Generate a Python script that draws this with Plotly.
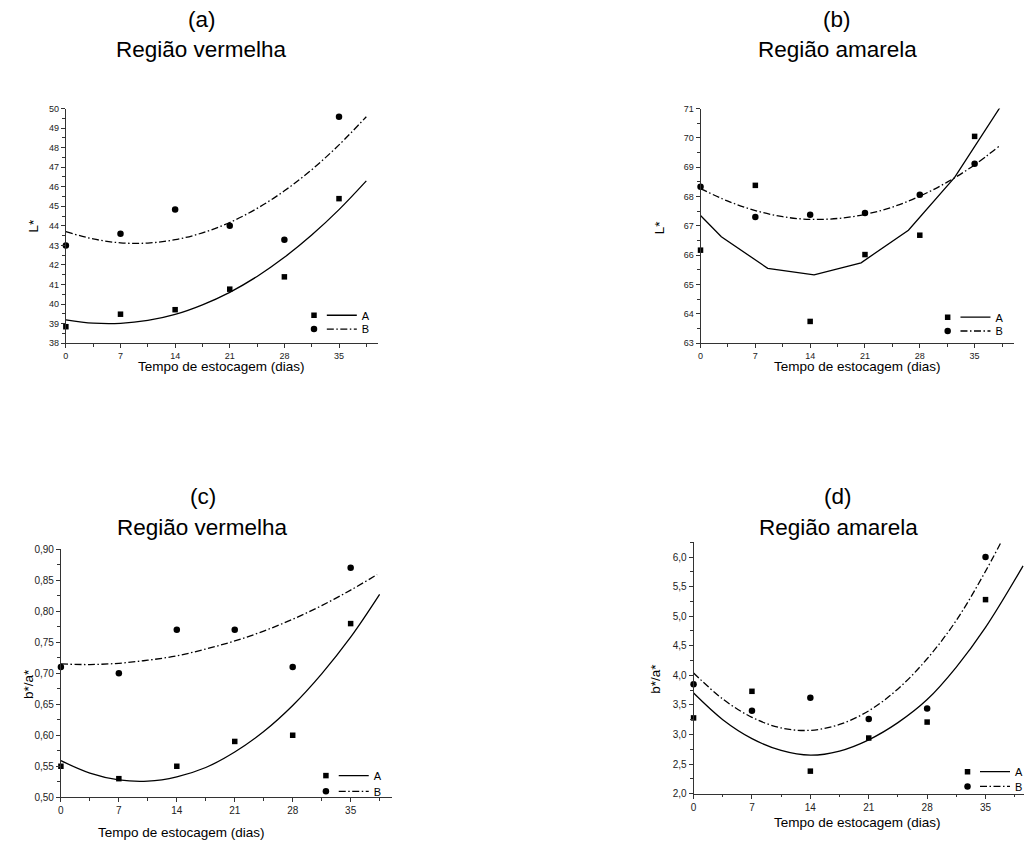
import plotly.graph_objects as go

# ---------------- data ----------------
days = [0, 7, 14, 21, 28, 35]

# (a) Região vermelha, L*
a_A = [38.84, 39.48, 39.71, 40.76, 41.39, 45.39]
a_B = [42.99, 43.60, 44.84, 44.00, 43.29, 49.58]
a_fit_x = [0, 3.5, 7, 10.5, 14, 17.5, 21, 24.5, 28, 31.5, 35, 38.5]
a_fitA = [39.19, 39.02, 39.01, 39.16, 39.47, 39.96, 40.60, 41.41, 42.39, 43.53, 44.83, 46.30]
a_fitB = [43.70, 43.33, 43.13, 43.12, 43.29, 43.64, 44.17, 44.89, 45.79, 46.87, 48.14, 49.58]

# (b) Região amarela, L*
b_A = [66.17, 68.38, 63.74, 66.02, 66.68, 70.05]
b_B = [68.33, 67.30, 67.38, 67.44, 68.06, 69.12]
b_fitA_x = [0, 2.66, 8.58, 14.5, 20.5, 26.55, 32.45, 38.2]
b_fitA = [67.35, 66.63, 65.55, 65.33, 65.74, 66.85, 68.65, 71.02]
b_fitB_x = [0, 3.5, 7, 10.5, 14, 17.5, 21, 24.5, 28, 31.5, 35, 38.1]
b_fitB = [68.27, 67.84, 67.52, 67.31, 67.22, 67.25, 67.39, 67.64, 68.01, 68.49, 69.08, 69.71]

# (c) Região vermelha, b*/a*
c_A = [0.55, 0.53, 0.55, 0.59, 0.60, 0.78]
c_B = [0.71, 0.70, 0.77, 0.77, 0.71, 0.87]
c_fitA_x = [0, 3.5, 7, 10.5, 14, 17.5, 21, 24.5, 28, 31.5, 35, 38.5]
c_fitA = [0.559, 0.539, 0.528, 0.526, 0.533, 0.548, 0.573, 0.606, 0.648, 0.699, 0.758, 0.827]
c_fitB_x = [0, 3.5, 7, 10.5, 14, 17.5, 21, 24.5, 28, 31.5, 35, 38.2]
c_fitB = [0.715, 0.714, 0.716, 0.721, 0.728, 0.739, 0.752, 0.768, 0.787, 0.809, 0.834, 0.859]

# (d) Região amarela, b*/a*
d_A = [3.28, 3.73, 2.38, 2.94, 3.21, 5.28]
d_B = [3.85, 3.40, 3.62, 3.26, 3.44, 6.00]
d_fitA_x = [0, 3.5, 7, 10.5, 14, 17.5, 21, 24.5, 28, 31.5, 35, 39.5]
d_fitA = [3.70, 3.25, 2.93, 2.73, 2.65, 2.72, 2.91, 3.20, 3.59, 4.14, 4.81, 5.85]
d_fitB_x = [0, 3.5, 7, 10.5, 14, 17.5, 21, 24.5, 28, 31.5, 35, 38.5]
d_fitB = [4.04, 3.60, 3.29, 3.11, 3.07, 3.17, 3.40, 3.77, 4.28, 4.93, 5.76, 6.70]

x_ticks = [0, 7, 14, 21, 28, 35]
panel_letters = ["(a)", "(b)", "(c)", "(d)"]
panel_regions = ["Região vermelha", "Região amarela", "Região vermelha", "Região amarela"]
y_titles = ["L*", "L*", "b*/a*", "b*/a*"]
x_title = "Tempo de estocagem (dias)"
series_names = ["A", "B"]

# ---------------- layout helpers ----------------
W, H = 1028, 843
FONT = "Liberation Sans, Arial, sans-serif"
AX = "#333333"
DASHDOT = "7px,2.5px,1.5px,2.5px"
TITLE_SIZE = 22.5


def xd(l, r):
    return [l / W, r / W]


def yd(top, bottom):
    return [1 - bottom / H, 1 - top / H]


panels = [
    dict(data=(a_A, a_B), fits=((a_fit_x, a_fitA), (a_fit_x, a_fitB)),
         xdom=xd(63.3, 377.6), ydom=yd(104, 342), xr=[0, 40], yr=[38, 50],
         ytick=dict(tickmode="linear", tick0=38, dtick=1),
         yminor=0.5, tfs=9,
         title_x=200, title_y=(14, 44), xt=(220, 366), yt=(31, 223),
         rows=(314, 328), sq=315, ln=329),
    dict(data=(b_A, b_B), fits=((b_fitA_x, b_fitA), (b_fitB_x, b_fitB)),
         xdom=xd(702.3, 1017.7), ydom=yd(104, 342), xr=[0, 40], yr=[63, 71],
         ytick=dict(tickmode="linear", tick0=63, dtick=1),
         yminor=0.5, tfs=9,
         title_x=840, title_y=(14, 44), xt=(860, 366), yt=(661, 224),
         rows=(316, 330), sq=953, ln=967),
    dict(data=(c_A, c_B), fits=((c_fitA_x, c_fitA), (c_fitB_x, c_fitB)),
         xdom=xd(58.3, 391.7), ydom=yd(551, 802.7), xr=[0, 40], yr=[0.5, 0.9],
         ytick=dict(tickmode="linear", tick0=0.5, dtick=0.05, tickformat=".2f"),
         yminor=0.025, tfs=10,
         title_x=201, title_y=(498, 529), xt=(180, 838), yt=(25, 688),
         rows=(781, 797), sq=327, ln=341),
    dict(data=(d_A, d_B), fits=((d_fitA_x, d_fitA), (d_fitB_x, d_fitB)),
         xdom=xd(695.3, 1027.9), ydom=yd(544, 799), xr=[0, 39.6], yr=[2.0, 6.25],
         ytick=dict(tickmode="linear", tick0=2.0, dtick=0.5, tickformat=".1f"),
         yminor=0.25, tfs=10,
         title_x=841, title_y=(498, 529), xt=(860, 828), yt=(657, 683),
         rows=(777, 792), sq=973, ln=987),
]

fig = go.Figure()
layout = dict(
    width=W, height=H, autosize=False,
    margin=dict(l=0, r=0, t=0, b=0),
    paper_bgcolor="white", plot_bgcolor="white",
    separators=",.",
    font=dict(family=FONT, color="black"),
    annotations=[],
)

leg_count = 0


def new_legend(left, row_center, size):
    global leg_count
    leg_count += 1
    name = "legend" if leg_count == 1 else f"legend{leg_count}"
    layout[name] = dict(x=left / W, y=1 - (row_center - 15) / H, xanchor="left", yanchor="top",
                        bgcolor="rgba(0,0,0,0)", font=dict(family=FONT, size=size),
                        itemwidth=30, tracegroupgap=0)
    return name


for i, p in enumerate(panels):
    n = i + 1
    xa = "x" if n == 1 else f"x{n}"
    ya = "y" if n == 1 else f"y{n}"
    symbols = ["square", "circle"]
    sizes = [5.5, 6.5]
    dashes = ["solid", DASHDOT]
    for k in range(2):
        lm = new_legend(p["sq"] - 22, p["rows"][k], 10)
        fig.add_trace(go.Scatter(
            x=days, y=p["data"][k], mode="markers", xaxis=xa, yaxis=ya,
            name=" ", legend=lm, showlegend=True,
            marker=dict(symbol=symbols[k], size=sizes[k], color="black"),
            cliponaxis=False,
        ))
    for k in range(2):
        ll = new_legend(p["ln"] - 8, p["rows"][k], 11)
        fx, fy = p["fits"][k]
        fig.add_trace(go.Scatter(
            x=fx, y=fy, mode="lines", xaxis=xa, yaxis=ya,
            name=series_names[k], legend=ll, showlegend=True,
            line=dict(color="black", width=1.3, dash=dashes[k],
                      shape="linear" if (i == 1 and k == 0) else "spline"),
        ))

    xkey = "xaxis" if n == 1 else f"xaxis{n}"
    ykey = "yaxis" if n == 1 else f"yaxis{n}"
    layout[xkey] = dict(
        domain=p["xdom"], anchor=ya, range=p["xr"],
        tickmode="array", tickvals=x_ticks,
        ticks="outside", ticklen=4, tickwidth=1, tickcolor=AX,
        minor=dict(tickmode="linear", tick0=0, dtick=3.5, ticks="outside", ticklen=2.5, tickcolor=AX),
        showline=True, linecolor=AX, linewidth=1,
        showgrid=False, zeroline=False,
        tickfont=dict(family=FONT, size=p["tfs"], color="#222"),
        fixedrange=True,
    )
    yax = dict(
        domain=p["ydom"], anchor=xa, range=p["yr"],
        ticks="outside", ticklen=4, tickwidth=1, tickcolor=AX,
        minor=dict(tickmode="linear", tick0=0, dtick=p["yminor"], ticks="outside", ticklen=2.5, tickcolor=AX),
        showline=True, linecolor=AX, linewidth=1,
        showgrid=False, zeroline=False,
        tickfont=dict(family=FONT, size=p["tfs"], color="#222"),
        fixedrange=True,
    )
    yax.update(p["ytick"])
    layout[ykey] = yax

    tx = p["title_x"] / W
    layout["annotations"] += [
        dict(text=panel_letters[i], x=tx, y=1 - p["title_y"][0] / H, xref="paper", yref="paper",
             showarrow=False, font=dict(family=FONT, size=TITLE_SIZE), xanchor="center", yanchor="middle"),
        dict(text=panel_regions[i], x=tx, y=1 - p["title_y"][1] / H, xref="paper", yref="paper",
             showarrow=False, font=dict(family=FONT, size=TITLE_SIZE), xanchor="center", yanchor="middle"),
        dict(text=x_title, x=p["xt"][0] / W, y=1 - p["xt"][1] / H, xref="paper", yref="paper",
             showarrow=False, font=dict(family=FONT, size=13.5), xanchor="center", yanchor="middle"),
        dict(text=y_titles[i], x=p["yt"][0] / W, y=1 - p["yt"][1] / H, xref="paper", yref="paper",
             showarrow=False, font=dict(family=FONT, size=13.5), textangle=-90,
             xanchor="center", yanchor="middle"),
    ]

fig.update_layout(**layout)
fig.write_html("out.html", post_script="document.body.style.margin='0';", config={"displayModeBar": False})
